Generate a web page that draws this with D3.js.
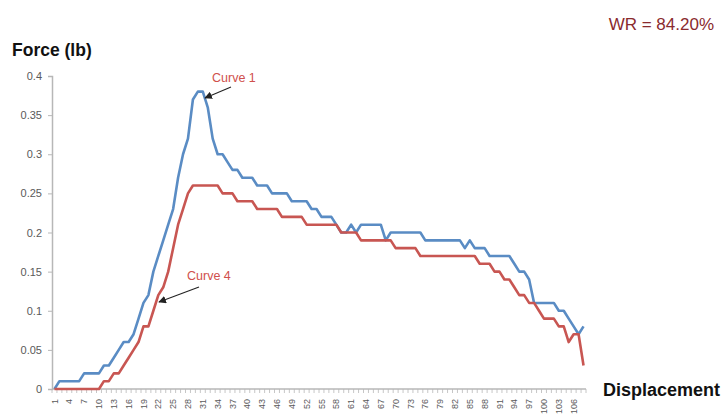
<!DOCTYPE html>
<html>
<head>
<meta charset="utf-8">
<script src="https://cdn.jsdelivr.net/npm/d3@7"></script>
<style>
  html, body { margin: 0; padding: 0; background: #fff; }
  svg { display: block; font-family: "Liberation Sans", Arial, Helvetica, sans-serif; }
</style>
</head>
<body>
<svg id="chart" width="722" height="416"></svg>
<script>
// Displacement steps 1..108
const categories = d3.range(1, 109);

// Force readings (lb) per displacement step
const curve1 = [
  0, 0.01, 0.01, 0.01, 0.01, 0.01, 0.02, 0.02, 0.02, 0.02,
  0.03, 0.03, 0.04, 0.05, 0.06, 0.06, 0.07, 0.09, 0.11, 0.12,
  0.15, 0.17, 0.19, 0.21, 0.23, 0.27, 0.30, 0.32, 0.37, 0.38,
  0.38, 0.36, 0.32, 0.30, 0.30, 0.29, 0.28, 0.28, 0.27, 0.27,
  0.27, 0.26, 0.26, 0.26, 0.25, 0.25, 0.25, 0.25, 0.24, 0.24,
  0.24, 0.24, 0.23, 0.23, 0.22, 0.22, 0.22, 0.21, 0.20, 0.20,
  0.21, 0.20, 0.21, 0.21, 0.21, 0.21, 0.21, 0.19, 0.20, 0.20,
  0.20, 0.20, 0.20, 0.20, 0.20, 0.19, 0.19, 0.19, 0.19, 0.19,
  0.19, 0.19, 0.19, 0.18, 0.19, 0.18, 0.18, 0.18, 0.17, 0.17,
  0.17, 0.17, 0.17, 0.16, 0.15, 0.15, 0.14, 0.11, 0.11, 0.11,
  0.11, 0.11, 0.10, 0.10, 0.09, 0.08, 0.07, 0.08
];

const curve4 = [
  0, 0, 0, 0, 0, 0, 0, 0, 0, 0,
  0.01, 0.01, 0.02, 0.02, 0.03, 0.04, 0.05, 0.06, 0.08, 0.08,
  0.10, 0.12, 0.13, 0.15, 0.18, 0.21, 0.23, 0.25, 0.26, 0.26,
  0.26, 0.26, 0.26, 0.26, 0.25, 0.25, 0.25, 0.24, 0.24, 0.24,
  0.24, 0.23, 0.23, 0.23, 0.23, 0.23, 0.22, 0.22, 0.22, 0.22,
  0.22, 0.21, 0.21, 0.21, 0.21, 0.21, 0.21, 0.21, 0.20, 0.20,
  0.20, 0.20, 0.19, 0.19, 0.19, 0.19, 0.19, 0.19, 0.19, 0.18,
  0.18, 0.18, 0.18, 0.18, 0.17, 0.17, 0.17, 0.17, 0.17, 0.17,
  0.17, 0.17, 0.17, 0.17, 0.17, 0.17, 0.16, 0.16, 0.16, 0.15,
  0.15, 0.14, 0.14, 0.13, 0.12, 0.12, 0.11, 0.11, 0.10, 0.09,
  0.09, 0.09, 0.08, 0.08, 0.06, 0.07, 0.07, 0.03
];

// Labelled steps on the displacement axis
const xTickLabels = [1, 4, 7, 10, 13, 16, 19, 22, 25, 28, 31, 34, 37, 40, 43, 46,
  49, 52, 55, 58, 61, 64, 67, 70, 73, 76, 79, 82, 85, 88, 91, 94, 97, 100, 103, 106];
const yTickValues = [0, 0.05, 0.1, 0.15, 0.2, 0.25, 0.3, 0.35, 0.4];

const svg = d3.select("#chart");
const margin = { left: 52, right: 136, top: 76, bottom: 27 };
const W = 722, H = 416;

const x = d3.scaleBand()
  .domain(categories)
  .range([margin.left, W - margin.right]);

const y = d3.scaleLinear()
  .domain([0, 0.4])
  .range([H - margin.bottom, margin.top]);

const axisColor = "#b7b7b7";
const tickText = "#5a5a5a";

// Y axis
const yAxis = svg.append("g")
  .attr("transform", `translate(${margin.left},0)`)
  .call(d3.axisLeft(y).tickValues(yTickValues).tickSize(4).tickPadding(6)
    .tickFormat(d => d === 0 ? "0" : String(+d.toFixed(2))));
yAxis.select(".domain").attr("stroke", axisColor).attr("stroke-width", 1.5);
yAxis.selectAll(".tick line").attr("stroke", axisColor).attr("stroke-width", 1);
yAxis.selectAll(".tick text")
  .attr("fill", tickText)
  .style("font-size", "11px");

// X axis: tick marks on category boundaries, labels every third step
const xAxisG = svg.append("g")
  .attr("transform", `translate(0,${y(0)})`);
xAxisG.append("line")
  .attr("x1", x.range()[0]).attr("x2", x.range()[1])
  .attr("stroke", axisColor).attr("stroke-width", 1.5);
xAxisG.selectAll("line.tick")
  .data(categories.concat([categories.length + 1]))
  .join("line")
  .attr("class", "tick")
  .attr("x1", d => d <= categories.length ? x(d) : x.range()[1])
  .attr("x2", d => d <= categories.length ? x(d) : x.range()[1])
  .attr("y1", 0).attr("y2", 4)
  .attr("stroke", axisColor).attr("stroke-width", 0.8);
xAxisG.selectAll("text")
  .data(xTickLabels)
  .join("text")
  .attr("transform", d => `translate(${x(d) + x.bandwidth() / 2},10) rotate(-90)`)
  .attr("text-anchor", "end")
  .attr("dy", "0.35em")
  .attr("fill", tickText)
  .style("font-size", "9px")
  .text(d => d);

// Series lines
const line = d3.line()
  .x((d, i) => x(categories[i]) + x.bandwidth() / 2)
  .y(d => y(d));

svg.append("path")
  .datum(curve1)
  .attr("fill", "none")
  .attr("stroke", "#5a8cc4")
  .attr("stroke-width", 2.6)
  .attr("stroke-linejoin", "round")
  .attr("d", line);

svg.append("path")
  .datum(curve4)
  .attr("fill", "none")
  .attr("stroke", "#c85652")
  .attr("stroke-width", 2.6)
  .attr("stroke-linejoin", "round")
  .attr("d", line);

// Axis titles
svg.append("text")
  .attr("x", 12).attr("y", 56)
  .attr("fill", "#111")
  .style("font-size", "17.5px").style("font-weight", "bold")
  .text("Force (lb)");

svg.append("text")
  .attr("x", 720).attr("y", 396)
  .attr("text-anchor", "end")
  .attr("fill", "#111")
  .style("font-size", "18px").style("font-weight", "bold")
  .text("Displacement");

// Work ratio
svg.append("text")
  .attr("x", 714).attr("y", 30)
  .attr("text-anchor", "end")
  .attr("fill", "#8a2a2e")
  .style("font-size", "17px")
  .text("WR = 84.20%");

// Curve annotations with arrows
const defs = svg.append("defs");
defs.append("marker")
  .attr("id", "arrowhead")
  .attr("viewBox", "0 0 10 10")
  .attr("refX", 9).attr("refY", 5)
  .attr("markerWidth", 7).attr("markerHeight", 7)
  .attr("orient", "auto")
  .append("path")
  .attr("d", "M0,0 L10,5 L0,10 Z")
  .attr("fill", "#222");

const notes = [
  { label: "Curve 1", lx: 212, ly: 82, x1: 231, y1: 87, x2: 205, y2: 98 },
  { label: "Curve 4", lx: 187, ly: 280, x1: 199, y1: 287, x2: 159, y2: 302 }
];
notes.forEach(n => {
  svg.append("text")
    .attr("x", n.lx).attr("y", n.ly)
    .attr("fill", "#d0504c")
    .style("font-size", "12.5px")
    .text(n.label);
  svg.append("line")
    .attr("x1", n.x1).attr("y1", n.y1)
    .attr("x2", n.x2).attr("y2", n.y2)
    .attr("stroke", "#222").attr("stroke-width", 1.1)
    .attr("marker-end", "url(#arrowhead)");
});
</script>
</body>
</html>
